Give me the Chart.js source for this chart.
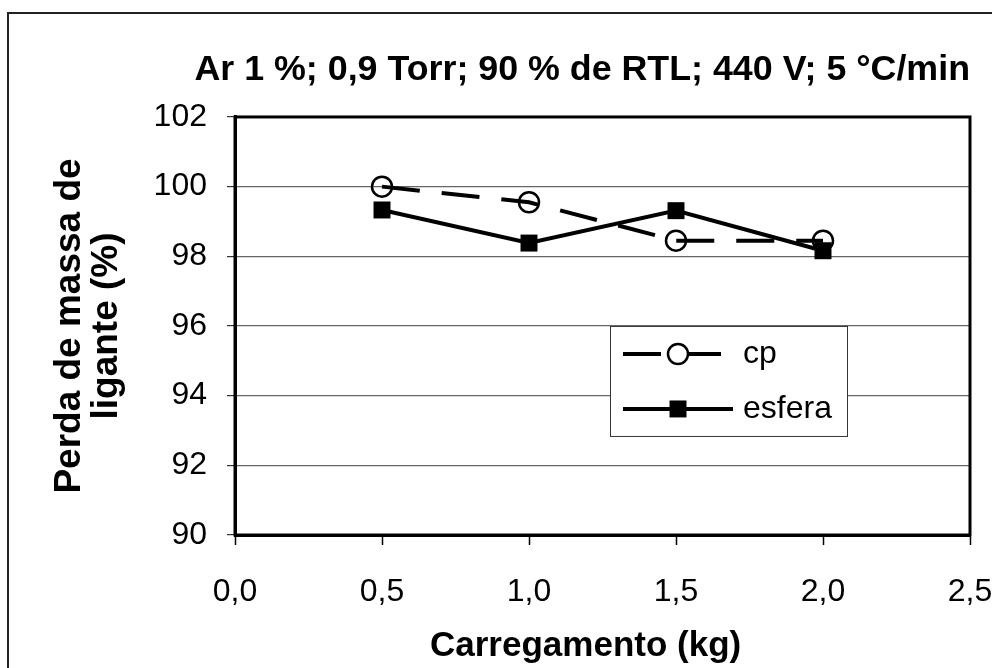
<!DOCTYPE html>
<html>
<head>
<meta charset="utf-8">
<script src="https://cdn.jsdelivr.net/npm/chart.js@4.4.0/dist/chart.umd.min.js"></script>
<style>
  html, body { margin: 0; padding: 0; background: #fff; overflow: hidden; }
  #moldura { position: absolute; left: 7px; top: 12px; width: 1100px; height: 800px; border: 2px solid #222; }
  #grafico { position: absolute; left: 0; top: 0; }
</style>
</head>
<body>
<div id="moldura"></div>
<canvas id="grafico" width="992" height="668"></canvas>
<script>
// Dados
var carregamento = [0.5, 1.0, 1.5, 2.0];
var perdaCp = [100.0, 99.55, 98.45, 98.45];
var perdaEsfera = [99.33, 98.38, 99.31, 98.16];
var nomesSeries = ['cp', 'esfera'];
var ticksX = [0, 0.5, 1.0, 1.5, 2.0, 2.5];
var ticksY = [90, 92, 94, 96, 98, 100, 102];

var fonte = "'Liberation Sans', Arial, sans-serif";
Chart.defaults.color = '#000';
Chart.defaults.font.family = fonte;

var montarPontos = function(xs, ys) {
    return xs.map(function(x, i) { return { x: x, y: ys[i] }; });
};

// Moldura preta em volta da area de plotagem
var molduraPlot = {
    id: 'molduraPlot',
    beforeDatasetsDraw: function(chart) {
        var ctx = chart.ctx, a = chart.chartArea;
        ctx.save();
        ctx.strokeStyle = '#000';
        ctx.lineWidth = 3;
        ctx.strokeRect(a.left, a.top, a.right - a.left, a.bottom - a.top);
        ctx.restore();
    }
};

// Titulo do eixo x (um pouco a esquerda do centro, como no original)
var tituloX = {
    id: 'tituloX',
    afterDraw: function(chart, args, opts) {
        var ctx = chart.ctx, a = chart.chartArea;
        ctx.save();
        ctx.fillStyle = '#000';
        ctx.font = 'bold ' + opts.fontSize + 'px ' + fonte;
        ctx.textAlign = 'center';
        ctx.textBaseline = 'middle';
        ctx.fillText(opts.text, a.left + a.width * opts.frac, a.bottom + opts.offset);
        ctx.restore();
    }
};

// Legenda dentro do grafico, com caixa
var legendaCaixa = {
    id: 'legendaCaixa',
    afterDatasetsDraw: function(chart, args, opts) {
        var ctx = chart.ctx, a = chart.chartArea;
        var x0 = a.left + opts.left, y0 = a.top + opts.top;
        ctx.save();
        ctx.fillStyle = '#fff';
        ctx.fillRect(x0, y0, opts.width, opts.height);
        ctx.strokeStyle = '#333';
        ctx.lineWidth = 1;
        ctx.strokeRect(x0 + 0.5, y0 + 0.5, opts.width, opts.height);

        chart.data.datasets.forEach(function(ds, i) {
            var y = y0 + opts.rows[i];
            var lx0 = x0 + opts.lineStart, lx1 = lx0 + opts.lineLength;
            var mx = (lx0 + lx1) / 2;
            ctx.strokeStyle = ds.borderColor;
            ctx.lineWidth = ds.borderWidth;
            ctx.setLineDash(ds.borderDash || []);
            ctx.beginPath();
            ctx.moveTo(lx0, y);
            ctx.lineTo(lx1, y);
            ctx.stroke();
            ctx.setLineDash([]);
            if (ds.pointStyle === 'circle') {
                ctx.fillStyle = '#fff';
                ctx.lineWidth = ds.pointBorderWidth;
                ctx.beginPath();
                ctx.arc(mx, y, ds.pointRadius, 0, Math.PI * 2);
                ctx.fill();
                ctx.stroke();
            } else {
                var s = ds.pointRadius * Math.SQRT1_2;
                ctx.fillStyle = ds.pointBackgroundColor;
                ctx.fillRect(mx - s, y - s, 2 * s, 2 * s);
            }
            ctx.fillStyle = '#000';
            ctx.font = opts.fontSize + 'px ' + fonte;
            ctx.textAlign = 'left';
            ctx.textBaseline = 'middle';
            ctx.fillText(ds.label, lx1 + opts.textGap, y);
        });
        ctx.restore();
    }
};

var context = document.getElementById('grafico').getContext('2d');
var chart = new Chart(context, {
    type: 'line',
    data: {
        datasets: [{
            label: nomesSeries[0],
            data: montarPontos(carregamento, perdaCp),
            borderColor: '#000',
            borderWidth: 4,
            borderDash: [38, 22],
            pointStyle: 'circle',
            pointRadius: 10,
            pointBorderWidth: 2.5,
            pointBorderColor: '#000',
            pointBackgroundColor: 'rgba(255,255,255,0)',
            order: 1
        }, {
            label: nomesSeries[1],
            data: montarPontos(carregamento, perdaEsfera),
            borderColor: '#000',
            borderWidth: 4,
            pointStyle: 'rect',
            pointRadius: 12,
            pointBorderWidth: 0,
            pointBorderColor: '#000',
            pointBackgroundColor: '#000',
            order: 0
        }]
    },
    options: {
        responsive: false,
        animation: false,
        layout: { padding: { left: 0, right: 22, top: 0, bottom: 0 } },
        plugins: {
            legend: { display: false },
            tooltip: { enabled: false },
            title: {
                display: true,
                text: 'Ar 1 %; 0,9 Torr; 90 % de RTL; 440 V; 5 °C/min',
                align: 'end',
                color: '#000',
                font: { size: 35.8, weight: 'bold', lineHeight: 1.2 },
                padding: { top: 49, bottom: 25 }
            },
            tituloX: { text: 'Carregamento (kg)', fontSize: 35, frac: 0.477, offset: 111 },
            legendaCaixa: {
                left: 375, top: 209, width: 237, height: 110,
                rows: [28, 83], lineStart: 13, lineLength: 110, textGap: 10, fontSize: 32
            }
        },
        scales: {
            x: {
                type: 'linear',
                min: 0,
                max: 2.5,
                afterFit: function(scale) {
                    scale.height = 133;
                    scale.paddingLeft = 0;
                    scale.paddingRight = 0;
                },
                afterBuildTicks: function(scale) {
                    scale.ticks = ticksX.map(function(v) { return { value: v }; });
                },
                ticks: {
                    font: { size: 32 },
                    padding: 28,
                    maxRotation: 0,
                    callback: function(v) { return v.toFixed(1).replace('.', ','); }
                },
                grid: { drawOnChartArea: false, drawTicks: true, tickLength: 10, tickColor: '#000', tickWidth: 1.5 },
                border: { color: '#000', width: 3 }
            },
            y: {
                min: 90,
                max: 102,
                afterFit: function(scale) { scale.width = 235; },
                afterBuildTicks: function(scale) {
                    scale.ticks = ticksY.map(function(v) { return { value: v }; });
                },
                ticks: { font: { size: 32 }, padding: 20 },
                grid: { color: '#666', lineWidth: 1.2, tickLength: 8, tickColor: '#333' },
                border: { color: '#000', width: 3 },
                title: {
                    display: true,
                    text: ['Perda de massa de', 'ligante (%)'],
                    font: { size: 37, weight: 'bold', lineHeight: 0.98 },
                    padding: { top: 52, bottom: 0 }
                }
            }
        }
    },
    plugins: [molduraPlot, tituloX, legendaCaixa]
});
</script>
</body>
</html>
